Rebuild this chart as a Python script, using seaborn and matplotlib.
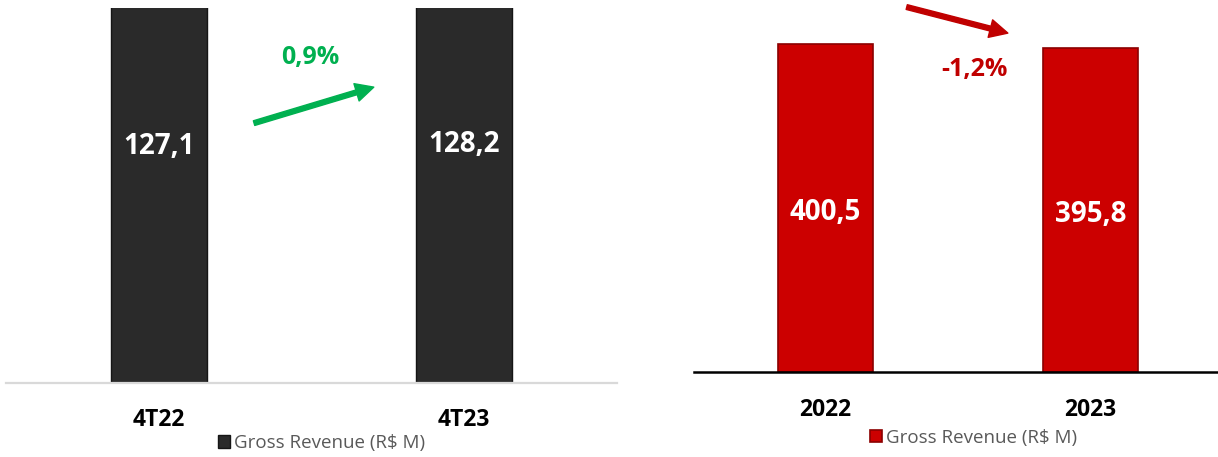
import matplotlib
matplotlib.use("Agg")
import matplotlib.pyplot as plt
import seaborn as sns

# dados
quarters = ["4T22", "4T23"]
quarter_revenue = [127.1, 128.2]
years = ["2022", "2023"]
year_revenue = [400.5, 395.8]
quarter_change = "0,9%"
year_change = "-1,2%"
legend_label = "Gross Revenue (R$ M)"

sns.set_style("white")
plt.rcParams["font.family"] = ["Open Sans", "DejaVu Sans"]

fig = plt.figure(figsize=(12.18, 4.57), dpi=100)
W, H = 1218, 457

def fmt(v):
    return f"{v:.1f}".replace(".", ",")

# painel esquerdo (trimestre)
ax1 = fig.add_axes([6 / W, 1 - 383 / H, 611 / W, 375 / H])
sns.barplot(x=quarters, y=quarter_revenue, color="#2a2a2a", saturation=1, width=0.315,
            edgecolor="#151515", linewidth=1, label=legend_label, ax=ax1)
ax1.set_xlim(-0.502, 1.502)
ax1.set_ylim(0, 118)
for i, v in enumerate(quarter_revenue):
    ax1.text(i, 0.632 + 0.005 * i, fmt(v), transform=ax1.get_xaxis_transform(),
             ha="center", va="center", color="white", fontsize=20, fontweight="bold")
ax1.annotate("", xy=(0.602, 0.789), xytext=(0.406, 0.693), xycoords="axes fraction",
             arrowprops=dict(width=3.5, headwidth=13, headlength=13, shrink=0,
                             color="#00b050"))
ax1.text(0.4975, 0.869, quarter_change, transform=ax1.transAxes, ha="center", va="center",
         color="#00b050", fontsize=18, fontweight="bold")
for s in ["top", "left", "right"]:
    ax1.spines[s].set_visible(False)
ax1.spines["bottom"].set_color("#d9d9d9")
ax1.spines["bottom"].set_linewidth(1.6)
ax1.set_yticks([])
ax1.set_xlabel("")
ax1.tick_params(axis="x", length=0, pad=18)
for t in ax1.get_xticklabels():
    t.set_fontsize(16.5)
    t.set_fontweight("bold")
    t.set_color("black")
ax1.legend(loc="center", bbox_to_anchor=(0.516, -0.16), frameon=False, fontsize=13.5,
           labelcolor="#595959", handlelength=0.64, handleheight=0.64, handletextpad=0.2)

# painel direito (ano)
ax2 = fig.add_axes([694 / W, 1 - 372 / H, 524 / W, 372 / H])
sns.barplot(x=years, y=year_revenue, color="#cc0000", saturation=1, width=0.358,
            edgecolor="#8b0000", linewidth=1.2, label=legend_label, ax=ax2)
ax2.set_xlim(-0.496, 1.481)
ax2.set_ylim(0, 454)
for i, v in enumerate(year_revenue):
    ax2.text(i, v * 0.485, fmt(v), ha="center", va="center", color="white",
             fontsize=20, fontweight="bold")
ax2.annotate("", xy=(0.599, 0.911), xytext=(0.406, 0.981), xycoords="axes fraction",
             arrowprops=dict(width=3.5, headwidth=13, headlength=13, shrink=0,
                             color="#c00000"))
ax2.text(0.536, 0.812, year_change, transform=ax2.transAxes, ha="center", va="center",
         color="#c00000", fontsize=18, fontweight="bold")
for s in ["top", "left", "right"]:
    ax2.spines[s].set_visible(False)
ax2.spines["bottom"].set_color("black")
ax2.spines["bottom"].set_linewidth(1.8)
ax2.set_yticks([])
ax2.set_xlabel("")
ax2.tick_params(axis="x", length=0, pad=19)
for t in ax2.get_xticklabels():
    t.set_fontsize(16.5)
    t.set_fontweight("bold")
    t.set_color("black")
ax2.legend(loc="center", bbox_to_anchor=(0.534, -0.177), frameon=False, fontsize=13.5,
           labelcolor="#595959", handlelength=0.64, handleheight=0.64, handletextpad=0.2)

fig.savefig("out.png", dpi=100)
